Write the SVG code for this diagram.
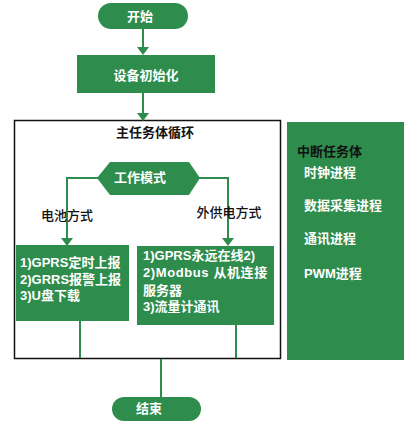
<svg xmlns="http://www.w3.org/2000/svg" width="410" height="423" viewBox="0 0 410 423">
<style>
.g{fill:#2e8c4c}
.w{fill:#fff;font-family:"Liberation Sans","Noto Sans CJK SC",sans-serif;font-weight:bold;font-size:13px}
.k{fill:#111;font-family:"Liberation Sans","Noto Sans CJK SC",sans-serif;font-weight:bold;font-size:13px}
.n{fill:#111;font-family:"Liberation Sans","Noto Sans CJK SC",sans-serif;font-weight:500;font-size:13px}
.c{stroke:#2e8c4c;stroke-width:2;fill:none}
</style>
<rect width="410" height="423" fill="#fff"/>
<g id="main-loop">
<rect x="14.5" y="120.5" width="266" height="238" fill="#fff" stroke="#111" stroke-width="1.5"/>
<text class="k" x="155" y="137" text-anchor="middle">主任务体循环</text>
</g>
<g id="connectors">
<line class="c" x1="143" y1="28" x2="143" y2="47"/>
<path d="M137,47 L149,47 L143,55 Z" class="g"/>
<line class="c" x1="143" y1="93" x2="143" y2="113"/>
<path d="M137,113 L149,113 L143,121 Z" class="g"/>
<polyline class="c" points="98,178 67,178 67,238"/>
<path d="M61,238 L73,238 L67,246 Z" class="g"/>
<polyline class="c" points="199,178 228,178 228,238"/>
<path d="M222,238 L234,238 L228,246 Z" class="g"/>
<line class="c" x1="80" y1="321" x2="80" y2="358"/>
<line class="c" x1="236" y1="325" x2="236" y2="358"/>
<line class="c" x1="161" y1="359" x2="161" y2="398"/>
</g>
<g id="start">
<rect x="98" y="3" width="90" height="26" rx="13" class="g"/>
<text class="w" x="140" y="21" text-anchor="middle">开始</text>
</g>
<g id="init">
<rect x="77" y="55" width="138" height="38" class="g"/>
<text class="w" x="146" y="80" text-anchor="middle">设备初始化</text>
</g>
<g id="mode">
<polygon points="97,178 110,162 189,162 200,178 189,195 110,195" class="g"/>
<text class="w" x="140" y="182" text-anchor="middle">工作模式</text>
</g>
<g id="label-battery">
<text class="n" x="67" y="220" text-anchor="middle">电池方式</text>
</g>
<g id="label-external">
<text class="n" x="229" y="217" text-anchor="middle">外供电方式</text>
</g>
<g id="battery-box">
<rect x="16" y="245" width="113" height="76" class="g"/>
<text class="w" x="20" y="267">1)GPRS定时上报</text>
<text class="w" x="20" y="284">2)GRRS报警上报</text>
<text class="w" x="20" y="300">3)U盘下载</text>
</g>
<g id="external-box">
<rect x="137" y="246" width="137" height="79" class="g"/>
<text class="w" x="143" y="260">1)GPRS永远在线2)</text>
<text class="w" x="143" y="277" letter-spacing="0.6">2)Modbus 从机连接</text>
<text class="w" x="143" y="295">服务器</text>
<text class="w" x="143" y="311">3)流量计通讯</text>
</g>
<g id="interrupt">
<rect x="287" y="122" width="117" height="238" class="g"/>
<text class="k" x="297" y="156">中断任务体</text>
<text class="w" x="304" y="177">时钟进程</text>
<text class="w" x="304" y="210">数据采集进程</text>
<text class="w" x="304" y="243">通讯进程</text>
<text class="w" x="304" y="278">PWM进程</text>
</g>
<g id="end">
<rect x="112" y="397" width="89" height="24" rx="12" class="g"/>
<text class="w" x="149" y="413" text-anchor="middle">结束</text>
</g>
</svg>
